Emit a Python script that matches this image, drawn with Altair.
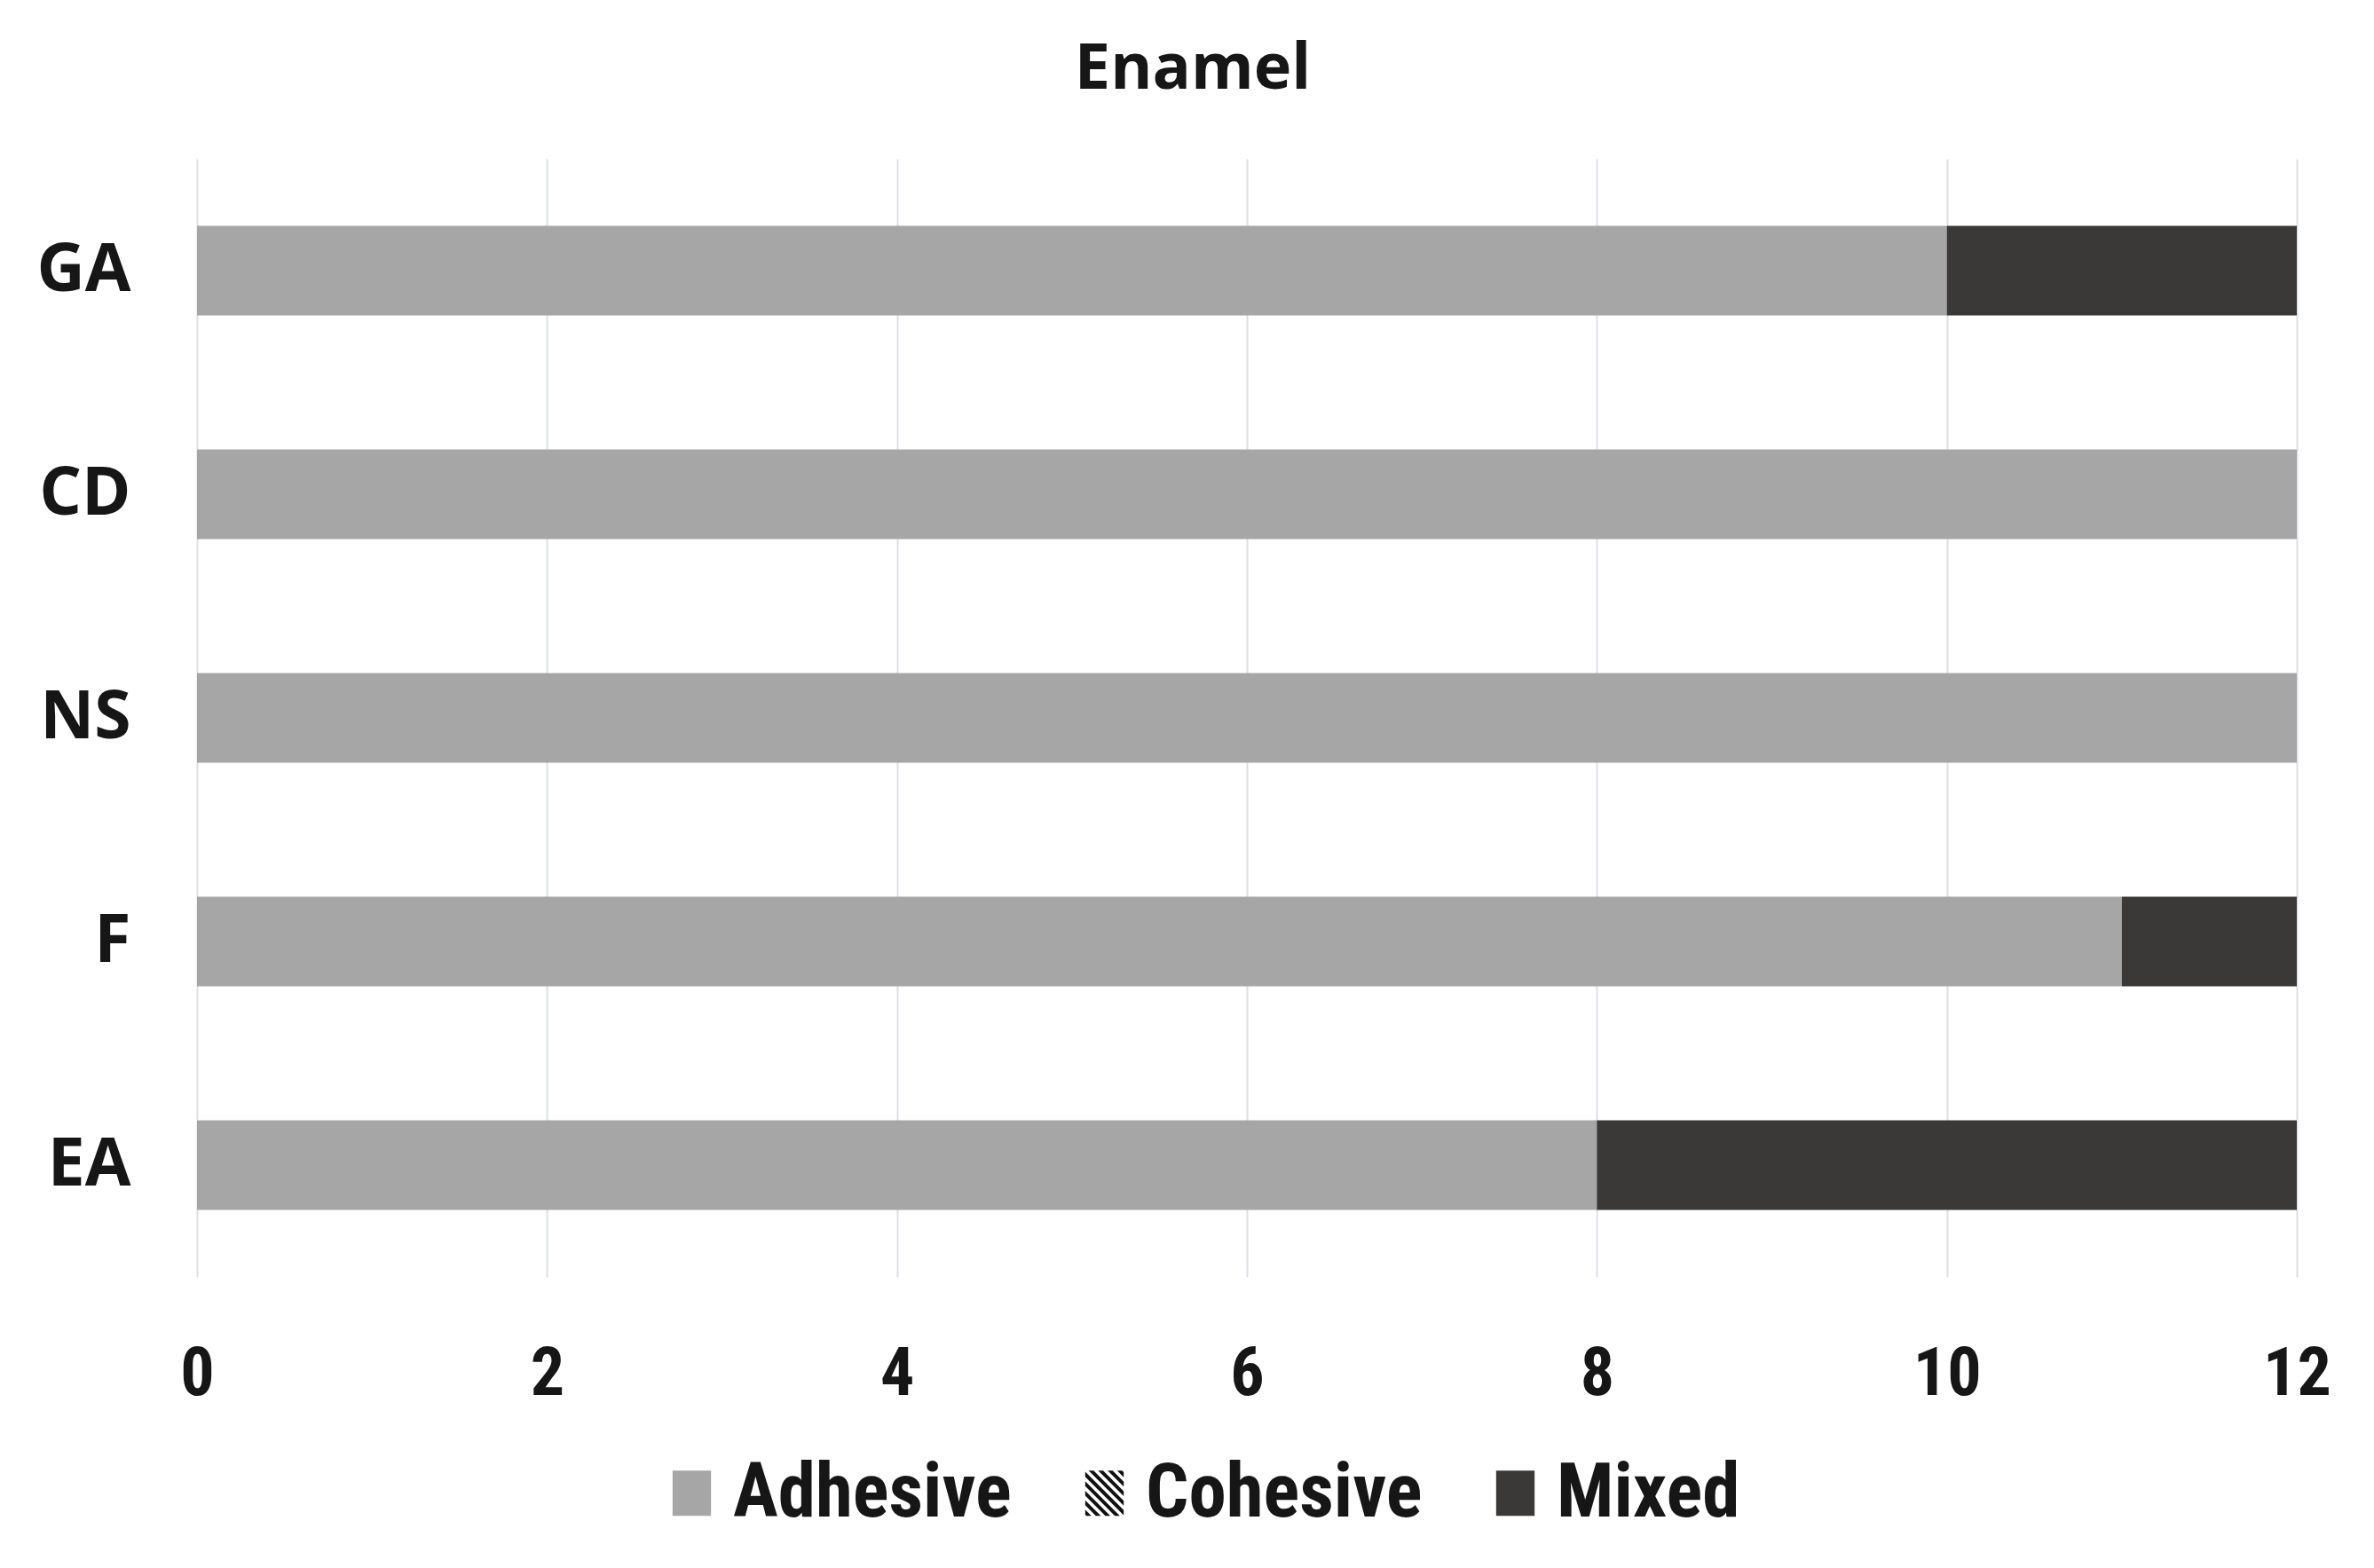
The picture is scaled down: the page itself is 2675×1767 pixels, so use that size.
import altair as alt
import pandas as pd

# ---- data ----
groups = ["GA", "CD", "NS", "F", "EA"]
failure_modes = ["Adhesive", "Cohesive", "Mixed"]
adhesive = [10, 12, 12, 11, 8]
cohesive = [0, 0, 0, 0, 0]
mixed = [2, 0, 0, 1, 4]
x_ticks = [0, 2, 4, 6, 8, 10, 12]
mode_colors = ["#A6A6A6", "#111111", "#3A3937"]

rows = []
for i, g in enumerate(groups):
    for j, (m, vals) in enumerate(zip(failure_modes, [adhesive, cohesive, mixed])):
        rows.append({"group": g, "mode": m, "order": j, "count": vals[i]})
df = pd.DataFrame(rows)
legend_df = pd.DataFrame({"mode": failure_modes})


# ---- legend swatch shapes (unit square paths) ----
def clip(poly, a, b, c):
    out = []
    n = len(poly)
    for k in range(n):
        p, q = poly[k], poly[(k + 1) % n]
        fp = a * p[0] + b * p[1] - c
        fq = a * q[0] + b * q[1] - c
        if fp <= 0:
            out.append(p)
        if (fp < 0 < fq) or (fq < 0 < fp):
            t = fp / (fp - fq)
            out.append((p[0] + t * (q[0] - p[0]), p[1] + t * (q[1] - p[1])))
    return out


HW = 0.85
rect_poly = [(-HW, -1), (HW, -1), (HW, 1), (-HW, 1)]


def poly_path(poly):
    return "M" + "L".join(f"{x:.3f},{y:.3f}" for x, y in poly) + "Z"


rect_path = poly_path(rect_poly)
hatch_parts = []
c = -2.2
while c < 2.2:
    p = clip(rect_poly, 1, -1, -c)
    p = clip(p, -1, 1, c + 0.22) if p else p
    if len(p) >= 3:
        hatch_parts.append(poly_path(p))
    c += 0.42
hatch_path = "".join(hatch_parts)

FONT_Y = "Open Sans"
FONT_NARROW = "Liberation Sans Narrow, Roboto Condensed, Liberation Sans, Arial"
TEXT_COLOR = "#161616"

color_scale = alt.Scale(domain=failure_modes, range=mode_colors)
shape_scale = alt.Scale(domain=failure_modes, range=[rect_path, hatch_path, rect_path])

legend_def = alt.Legend(
    title=None,
    orient="none",
    legendX=515,
    legendY=1461,
    direction="horizontal",
    labelFont=FONT_NARROW,
    labelFontSize=85,
    labelFontWeight="bold",
    labelColor=TEXT_COLOR,
    labelLimit=0,
    labelOffset=4,
    columnPadding=62,
    symbolSize=2600,
    symbolOpacity=1,
    symbolStrokeWidth=0,
)

bars = alt.Chart(df).mark_bar().encode(
    y=alt.Y(
        "group:N",
        sort=groups,
        scale=alt.Scale(paddingInner=0.6, paddingOuter=0.3),
        axis=alt.Axis(
            title=None, domain=False, ticks=False,
            labelFont=FONT_Y, labelFontSize=75, labelFontWeight="bold",
            labelColor=TEXT_COLOR, labelPadding=75,
        ),
    ),
    x=alt.X(
        "count:Q",
        stack="zero",
        scale=alt.Scale(domain=[0, 12], nice=False),
        axis=alt.Axis(
            values=x_ticks, title=None, domain=False, ticks=False,
            grid=True, gridColor="#DCE0E6", gridWidth=2, labelFlush=False,
            labelFont=FONT_NARROW, labelFontSize=76, labelFontWeight="bold",
            labelColor=TEXT_COLOR, labelPadding=72,
        ),
    ),
    color=alt.Color("mode:N", scale=color_scale, legend=legend_def),
    order=alt.Order("order:Q"),
)

legend_pts = alt.Chart(legend_df).mark_point(filled=True, opacity=0).encode(
    color=alt.Color("mode:N", scale=color_scale, legend=legend_def),
    shape=alt.Shape("mode:N", scale=shape_scale, legend=legend_def),
)

chart = (
    alt.layer(bars, legend_pts)
    .properties(
        width=2366,
        height=1260,
        title=alt.Title(
            "Enamel", font=FONT_Y, fontSize=72, fontWeight="bold",
            color=TEXT_COLOR, offset=64, anchor="middle", dx=-61,
        ),
        autosize=alt.AutoSizeParams(type="none"),
        padding={"left": 214, "top": 171, "right": 79, "bottom": 320},
    )
    .configure_view(stroke=None)
)

chart.save("out.html", embed_options={"renderer": "svg", "actions": False})
